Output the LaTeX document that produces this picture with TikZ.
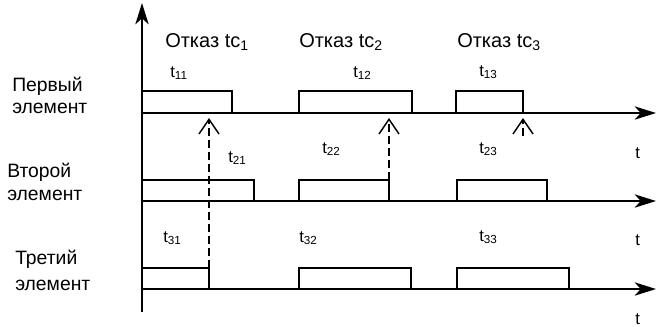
\documentclass[tikz,border=0pt]{standalone}
\usepackage{fontspec}
\setmainfont{Liberation Sans}
\usetikzlibrary{arrows.meta}

\begin{document}
\begin{tikzpicture}[x=0.75pt,y=-0.75pt,
  axisline/.style={line width=1.3pt,-{Stealth[length=16pt,width=10pt,inset=4.5pt]}},
  pulse/.style={line width=1.1pt},
  fault/.style={line width=1.1pt,dash pattern=on 6pt off 3pt,
    -{Straight Barb[length=11pt,width=15pt,line width=1.1pt]}},
  rowname/.style={inner sep=0pt,anchor=base west,font=\fontsize{14.5pt}{17pt}\selectfont},
  evtname/.style={inner sep=0pt,anchor=base west,font=\fontsize{15pt}{18pt}\selectfont},
  durname/.style={inner sep=0pt,anchor=base west,font=\fontsize{12.5pt}{15pt}\selectfont},
]
\useasboundingbox (0,0) rectangle (656,326);

% time axes of the three elements and the common vertical axis
\draw[axisline] (142,312) -- (142,3);
\draw[axisline] (142,113) -- (656,113);
\draw[axisline] (142,201) -- (656,201);
\draw[axisline] (142,289) -- (656,289);

% working intervals, first element
\draw[pulse] (142,91) rectangle (232,113);
\draw[pulse] (299,91) rectangle (412,113);
\draw[pulse] (456,91) rectangle (523,113);
% second element
\draw[pulse] (142,180) rectangle (254,201);
\draw[pulse] (299,180) rectangle (389,201);
\draw[pulse] (457,180) rectangle (547,201);
% third element
\draw[pulse] (142,268) rectangle (209,289);
\draw[pulse] (299,268) rectangle (411,289);
\draw[pulse] (457,268) rectangle (569,289);

% failure instants
\coordinate (end31) at (209,268);
\coordinate (fail1) at (209,118);
\coordinate (end22) at (389,180);
\coordinate (fail2) at (389,118);
\coordinate (end13) at (523,136);
\coordinate (fail3) at (523,118);
\draw[fault] (end31) -- (fail1);
\draw[fault] (end22) -- (fail2);
\draw[fault] (end13) -- (fail3);

% row captions
\node[rowname] (r1a) at (12,91) {Первый};
\node[rowname] (r1b) at (12,113) {элемент};
\node[rowname] (r2a) at (7,177) {Второй};
\node[rowname] (r2b) at (7,200) {элемент};
\node[rowname] (r3a) at (15,264) {Третий};
\node[rowname] (r3b) at (15,290) {элемент};

% failure captions
\node[evtname] (e1) at (165,47) {Отказ tc\textsubscript{1}};
\node[evtname] (e2) at (299,47) {Отказ tc\textsubscript{2}};
\node[evtname] (e3) at (457,47) {Отказ tc\textsubscript{3}};

% interval durations
\node[durname] (d11) at (170,77) {t\textsubscript{11}};
\node[durname] (d12) at (353,77) {t\textsubscript{12}};
\node[durname] (d13) at (479,76) {t\textsubscript{13}};
\node[durname] (d21) at (228,162) {t\textsubscript{21}};
\node[durname] (d22) at (322,153) {t\textsubscript{22}};
\node[durname] (d23) at (479,153) {t\textsubscript{23}};
\node[durname] (d31) at (163,242) {t\textsubscript{31}};
\node[durname] (d32) at (299,242) {t\textsubscript{32}};
\node[durname] (d33) at (479,241) {t\textsubscript{33}};

% time labels at the axis ends
\node[durname] (ta1) at (635,158) {t};
\node[durname] (ta2) at (635,245) {t};
\node[durname] (ta3) at (635,324) {t};
\end{tikzpicture}
\end{document}
